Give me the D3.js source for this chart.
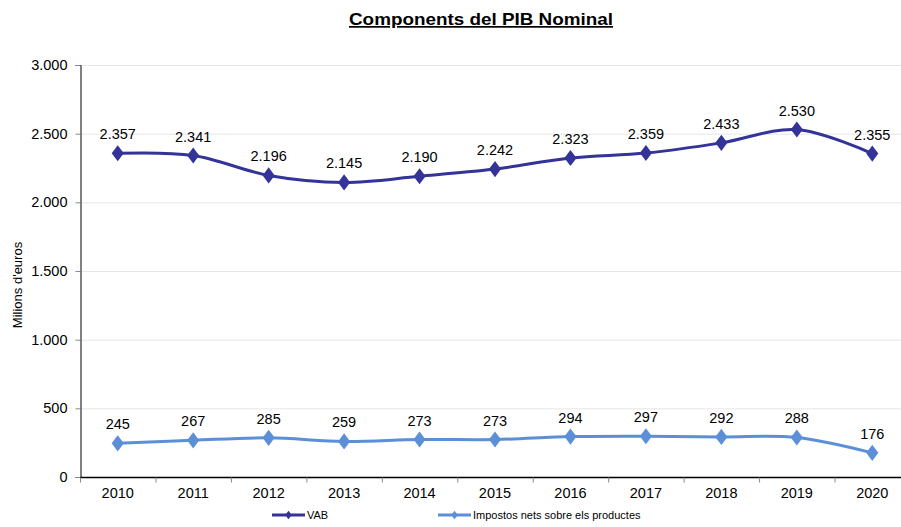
<!DOCTYPE html>
<html>
<head>
<meta charset="utf-8">
<script src="https://cdn.jsdelivr.net/npm/d3@7"></script>
<style>
  body { margin: 0; background: #fff; }
  svg { font-family: "Liberation Sans", Arial, sans-serif; }
</style>
</head>
<body>
<div id="chart"></div>
<script>
const years = ['2010', '2011', '2012', '2013', '2014', '2015', '2016', '2017', '2018', '2019', '2020'];
const vab = [2357, 2341, 2196, 2145, 2190, 2242, 2323, 2359, 2433, 2530, 2355];
const impostos = [245, 267, 285, 259, 273, 273, 294, 297, 292, 288, 176];
const yTicks = [0, 500, 1000, 1500, 2000, 2500, 3000];

const W = 901, H = 527;
const margin = {top: 65, right: -9, bottom: 50, left: 80};
const width = W - margin.left - margin.right,
  height = H - margin.top - margin.bottom;

const fmt = d3.formatLocale({decimal: ',', thousands: '.', grouping: [3], currency: ['', '€']}).format(',d');

const svg = d3.select('#chart')
  .append('svg')
    .attr('width', W)
    .attr('height', H);

// title
svg.append('text')
  .attr('x', 481)
  .attr('y', 25)
  .attr('text-anchor', 'middle')
  .attr('textLength', 264)
  .attr('lengthAdjust', 'spacingAndGlyphs')
  .style('font-size', '17px')
  .style('font-weight', 'bold')
  .style('text-decoration', 'underline')
  .text('Components del PIB Nominal');

const g = svg.append('g')
  .attr('transform', 'translate(' + margin.left + ',' + margin.top + ')');

const xScale = d3.scaleBand()
  .range([0, width])
  .domain(years);

const yScale = d3.scaleLinear()
  .range([height, 0])
  .domain([0, 3000]);

// gridlines
g.selectAll('.grid')
  .data(yTicks.filter(d => d > 0))
  .enter()
  .append('line')
    .attr('x1', 0)
    .attr('x2', width)
    .attr('y1', d => yScale(d) + 0.5)
    .attr('y2', d => yScale(d) + 0.5)
    .attr('stroke', '#e6e6e6')
    .attr('stroke-width', 1);

// y axis
const yAxis = g.append('g')
  .attr('transform', 'translate(0.5,0)')
  .call(d3.axisLeft(yScale).tickValues(yTicks).tickFormat(fmt).tickSize(5).tickPadding(8));
yAxis.select('.domain').attr('stroke', '#000');
yAxis.selectAll('.tick line').attr('stroke', '#888');
yAxis.selectAll('text').style('font-size', '14.5px').attr('fill', '#000');

// x axis with ticks between categories
const xAxis = g.append('g')
  .attr('transform', 'translate(0,' + (height + 0.5) + ')');
xAxis.append('line')
  .attr('x1', 0).attr('x2', width)
  .attr('stroke', '#000').attr('stroke-width', 1.5);
xAxis.selectAll('.xtick')
  .data(years)
  .enter()
  .append('line')
    .attr('x1', d => xScale(d) + 0.5)
    .attr('x2', d => xScale(d) + 0.5)
    .attr('y1', 0).attr('y2', 5)
    .attr('stroke', '#888');
xAxis.selectAll('.xlabel')
  .data(years)
  .enter()
  .append('text')
    .attr('x', d => xScale(d) + xScale.bandwidth() / 2)
    .attr('y', 20)
    .attr('text-anchor', 'middle')
    .style('font-size', '14.5px')
    .text(d => d);

// axis title
svg.append('text')
  .attr('transform', 'translate(22,' + 285 + ') rotate(-90)')
  .attr('text-anchor', 'middle')
  .style('font-size', '13px')
  .text("Milions d'euros");

const series = [
  {name: 'VAB', values: vab, color: '#333399'},
  {name: 'Impostos nets sobre els productes', values: impostos, color: '#5b8fd8'}
];

const line = d3.line()
  .x((d, i) => xScale(years[i]) + xScale.bandwidth() / 2)
  .y(d => yScale(d))
  .curve(d3.curveCatmullRom.alpha(0.5));

const diamond = d3.symbol().type(d3.symbolDiamond).size(75);

series.forEach((s) => {
  g.append('path')
    .datum(s.values)
    .attr('d', line)
    .attr('fill', 'none')
    .attr('stroke', s.color)
    .attr('stroke-width', 3);

  g.selectAll(null)
    .data(s.values)
    .enter()
    .append('path')
      .attr('d', diamond)
      .attr('transform', (d, i) => 'translate(' + (xScale(years[i]) + xScale.bandwidth() / 2) + ',' + yScale(d) + ') scale(1.3,1)')
      .attr('fill', s.color);

  g.selectAll(null)
    .data(s.values)
    .enter()
    .append('text')
      .attr('x', (d, i) => xScale(years[i]) + xScale.bandwidth() / 2)
      .attr('y', d => yScale(d) - 14)
      .attr('text-anchor', 'middle')
      .style('font-size', '14.5px')
      .text(d => fmt(d));
});

// legend
const legendX = [272, 438];
series.forEach((s, i) => {
  const lg = svg.append('g').attr('transform', 'translate(' + legendX[i] + ',515)');
  lg.append('line')
    .attr('x1', 0).attr('x2', 33)
    .attr('stroke', s.color).attr('stroke-width', 3);
  lg.append('path')
    .attr('d', d3.symbol().type(d3.symbolDiamond).size(22))
    .attr('transform', 'translate(16.5,0) scale(1.3,1)')
    .attr('fill', s.color);
  lg.append('text')
    .attr('x', 35)
    .attr('y', 4)
    .style('font-size', '11px')
    .text(s.name);
});
</script>
</body>
</html>
